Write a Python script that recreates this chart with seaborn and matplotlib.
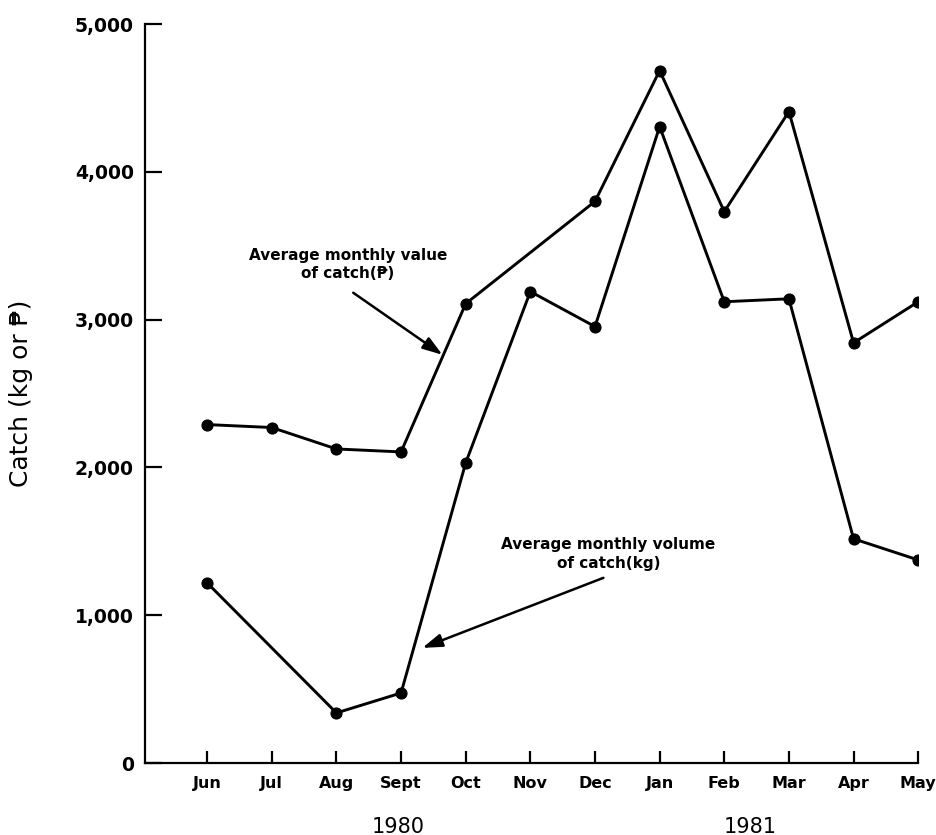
import numpy as np
import pandas as pd
from matplotlib import pyplot as plt
import seaborn as sns

months = ['Jun', 'Jul', 'Aug', 'Sept', 'Oct', 'Nov', 'Dec', 'Jan', 'Feb', 'Mar', 'Apr', 'May']
# average monthly value of catch (pesos); no point for Nov
value = [2290, 2270, 2125, 2105, 3108, None, 3800, 4685, 3731, 4408, 2843, 3121]
# average monthly volume of catch (kg); no point for Jul
volume = [1219, None, 339, 474, 2031, 3190, 2953, 4306, 3121, 3141, 1517, 1374]
yticks = [0, 1000, 2000, 3000, 4000, 5000]
ytick_labels = ['0', '1,000', '2,000', '3,000', '4,000', '5,000']

rows = []
for i, m in enumerate(months):
    rows.append([i, m, 'value', value[i]])
    rows.append([i, m, 'volume', volume[i]])
df = pd.DataFrame(rows, columns=['pos', 'month', 'series', 'catch']).dropna()

sns.set_style('ticks')
plt.rcParams['font.family'] = ['DejaVu Sans']
plt.rcParams['text.color'] = 'black'
plt.rcParams['axes.labelcolor'] = 'black'

fig = plt.figure(figsize=(9.36, 8.35), dpi=100)
ax = fig.add_axes([0.155, 0.0862, 0.826, 0.885])

for s in ['value', 'volume']:
    sns.lineplot(
        x='pos', y='catch', data=df[df['series'] == s], ax=ax,
        color='black', linewidth=2.1, marker='o', markersize=8,
        markeredgecolor='black', markerfacecolor='black', legend=False
    )

ax.set_xlim(-0.96, 11)
ax.set_ylim(0, 5000)
ax.set_xticks(range(len(months)))
ax.set_xticklabels(months, fontsize=11.5, fontweight='bold')
ax.set_yticks(yticks)
ax.set_yticklabels(ytick_labels, fontsize=13.5, fontweight='bold')
ax.tick_params(axis='both', direction='in', width=1.6, colors='black')
ax.tick_params(axis='y', length=12, pad=8)
ax.tick_params(axis='x', length=9, pad=9)
for side in ['top', 'right']:
    ax.spines[side].set_visible(False)
for side in ['left', 'bottom']:
    ax.spines[side].set_linewidth(1.6)
    ax.spines[side].set_color('black')
ax.set_xlabel('')
ax.set_ylabel('Catch (kg or \u20b1)', fontsize=18, labelpad=30, color='black')

arrow = dict(arrowstyle='-|>,head_length=1.2,head_width=0.4', color='black', lw=1.8, shrinkA=0, shrinkB=0)
ax.annotate('', xy=(3.64, 2762), xytext=(2.26, 3182), arrowprops=arrow)
ax.text(2.18, 3372, 'Average monthly value\nof catch(\u20b1)', ha='center', va='center',
        fontsize=11, fontweight='bold', linespacing=1.3, color='black')
ax.annotate('', xy=(3.33, 779), xytext=(6.13, 1253), arrowprops=arrow)
ax.text(6.21, 1415, 'Average monthly volume\nof catch(kg)', ha='center', va='center',
        fontsize=11, fontweight='bold', linespacing=1.3, color='black')

ax.text(2.95, -430, '1980', ha='center', va='center', fontsize=15, color='black', clip_on=False)
ax.text(8.4, -430, '1981', ha='center', va='center', fontsize=15, color='black', clip_on=False)

plt.savefig('out.png', dpi=100)
plt.close()
